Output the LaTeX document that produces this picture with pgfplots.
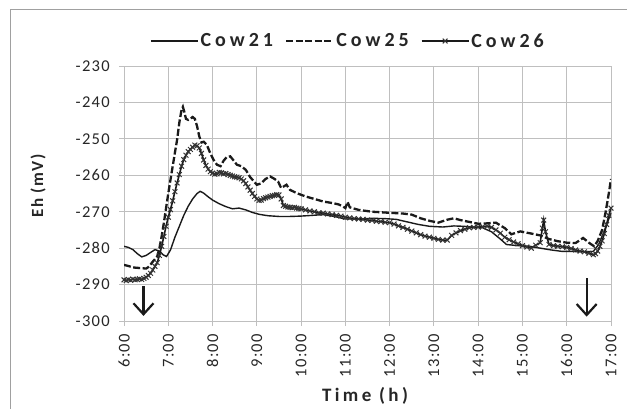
\documentclass[border=0pt]{standalone}
\usepackage{fontspec}
\setmainfont{Carlito}
\newfontfamily\tickfont[LetterSpace=8]{Carlito}
\newfontfamily\labfont[LetterSpace=18]{Carlito}
\newfontfamily\legfont[LetterSpace=20]{Carlito}
\newfontfamily\ylabfont[LetterSpace=9]{Carlito}
\usepackage{pgfplots}
\pgfplotsset{compat=1.18}
\usetikzlibrary{arrows.meta}
\definecolor{gridgray}{HTML}{BFBFBF}
\definecolor{framegray}{HTML}{A0A0A0}
\definecolor{ink}{HTML}{1A1A1A}
\begin{document}
\begin{tikzpicture}
\useasboundingbox (0pt,0pt) rectangle (627pt,408pt);
\draw[color=framegray, line width=1pt] (10pt,-5pt) -- (10pt,398pt) -- (640pt,398pt);
\begin{axis}[
  at={(124pt,87pt)}, anchor=south west,
  scale only axis, width=487pt, height=255pt,
  xmin=6, xmax=17, ymin=-300, ymax=-230,
  xtick={6,7,8,9,10,11,12,13,14,15,16,17},
  xticklabels={6:00,7:00,8:00,9:00,10:00,11:00,12:00,13:00,14:00,15:00,16:00,17:00},
  ytick={-300,-290,-280,-270,-260,-250,-240,-230},
  yticklabels={-300,-290,-280,-270,-260,-250,-240,-230},
  grid=major,
  grid style={color=gridgray, line width=0.9pt},
  axis line style={color=gridgray, line width=0.9pt},
  tick style={color=gridgray, line width=0.9pt},
  tick align=outside, major tick length=5pt,
  xtick pos=bottom, ytick pos=left,
  x tick label style={rotate=90, anchor=east, font=\tickfont\fontsize{16.5}{16.5}\selectfont, text=black!85, inner sep=2pt},
  y tick label style={font=\tickfont\fontsize{16.5}{16.5}\selectfont, text=black!85, inner sep=2pt},
  xticklabel shift=6pt, yticklabel shift=7pt,
  xlabel={Time (h)}, ylabel={Eh (mV)},
  xlabel style={at={(axis description cs:0.495,-0.293)}, anchor=center, font=\labfont\bfseries\fontsize{19}{19}\selectfont, text=black!85},
  ylabel style={at={(axis description cs:-0.1766,0.529)}, anchor=center, rotate=0, font=\ylabfont\bfseries\fontsize{17}{17}\selectfont, text=black!85},
  legend columns=3,
  legend style={at={(0.46,1.098)}, anchor=center, draw=none, fill=none,
    font=\legfont\bfseries\fontsize{20}{20}\selectfont, text=black!85,
    /tikz/every even column/.append style={column sep=10pt}},
  legend cell align=left,
  legend image code/.code={\draw[mark repeat=2,mark phase=2,#1] plot coordinates {(0pt,0pt) (23.5pt,0pt) (47pt,0pt)};},
]
\addplot[color=ink, line width=1.4pt, mark=none] coordinates {
(6.00,-279.5) (6.10,-279.8) (6.20,-280.4) (6.30,-281.5) (6.40,-282.4) (6.50,-282.0)
(6.60,-281.2) (6.70,-280.4) (6.80,-280.8) (6.88,-281.8) (6.96,-282.3) (7.05,-280.5)
(7.15,-277.0) (7.25,-274.0) (7.35,-271.0) (7.45,-268.5) (7.55,-266.5) (7.65,-265.0)
(7.72,-264.4) (7.80,-264.9) (7.90,-265.9) (8.00,-266.8) (8.15,-267.8) (8.30,-268.6)
(8.45,-269.2) (8.60,-269.0) (8.75,-269.5) (8.90,-270.2) (9.05,-270.7) (9.25,-271.1)
(9.50,-271.3) (9.75,-271.3) (10.00,-271.2) (10.25,-271.0) (10.50,-270.8) (10.75,-271.3)
(11.00,-272.0) (11.30,-272.0) (11.60,-271.8) (11.90,-271.9) (12.15,-272.1) (12.40,-272.8)
(12.65,-273.5) (12.90,-274.0) (13.20,-274.2) (13.45,-273.9) (13.66,-274.0) (13.90,-274.2)
(14.10,-274.4) (14.30,-275.5) (14.50,-277.5) (14.64,-279.0) (14.80,-279.2) (15.00,-279.4)
(15.17,-279.5) (15.40,-280.0) (15.65,-280.5) (15.90,-280.9) (16.10,-280.9) (16.35,-281.0)
(16.60,-280.9) (16.72,-279.0) (16.83,-275.8) (16.92,-273.0) (17.00,-270.3)
};
\addlegendentry{Cow21}
\addplot[color=ink, line width=2.3pt, dash pattern=on 7pt off 2.5pt, mark=none] coordinates {
(6.00,-284.6) (6.10,-284.9) (6.20,-285.3) (6.30,-285.4) (6.40,-285.5) (6.50,-285.6)
(6.55,-285.2) (6.60,-284.5) (6.65,-283.7) (6.70,-283.0) (6.75,-282.3) (6.80,-280.0)
(6.85,-276.8) (6.90,-273.1) (6.95,-269.0) (7.00,-265.0) (7.05,-261.2) (7.10,-257.5)
(7.15,-253.8) (7.20,-250.2) (7.25,-245.5) (7.30,-242.0) (7.33,-241.2) (7.36,-242.5)
(7.40,-244.5) (7.45,-244.8) (7.50,-244.5) (7.55,-244.0) (7.60,-244.5) (7.65,-246.5)
(7.70,-249.3) (7.75,-251.0) (7.80,-250.8) (7.87,-251.6) (7.95,-254.0) (8.02,-255.7)
(8.10,-257.1) (8.18,-257.5) (8.25,-256.0) (8.32,-255.0) (8.40,-254.8) (8.48,-256.0)
(8.55,-257.1) (8.65,-257.5) (8.75,-258.5) (8.85,-260.5) (9.00,-262.6) (9.10,-262.2)
(9.20,-261.0) (9.30,-260.3) (9.40,-261.0) (9.48,-261.7) (9.55,-263.5) (9.67,-262.6)
(9.75,-264.0) (9.90,-264.9) (10.10,-265.8) (10.30,-266.5) (10.50,-267.2) (10.70,-267.6)
(10.85,-268.0) (10.95,-268.6) (11.00,-269.0) (11.05,-267.3) (11.10,-268.8) (11.30,-269.5)
(11.60,-270.0) (12.00,-270.3) (12.30,-270.5) (12.50,-270.8) (12.70,-271.8) (12.90,-272.5)
(13.10,-273.0) (13.30,-272.2) (13.45,-271.8) (13.60,-272.3) (13.80,-272.8) (14.00,-273.3)
(14.20,-273.2) (14.40,-273.0) (14.60,-274.5) (14.75,-276.2) (14.95,-275.4) (15.20,-276.0)
(15.40,-276.5) (15.60,-277.5) (15.80,-278.1) (16.00,-278.5) (16.20,-278.6) (16.37,-277.2)
(16.50,-278.5) (16.62,-279.5) (16.70,-278.0) (16.80,-275.0) (16.88,-270.0) (16.95,-265.0)
(17.00,-261.0)
};
\addlegendentry{Cow25}
\addplot[color=ink, line width=1.6pt, mark=x, mark size=3.4pt, mark options={line width=1pt, color=black!80}] coordinates {
(6.00,-288.7) (6.05,-288.9) (6.10,-288.6) (6.15,-288.8) (6.20,-288.5) (6.25,-288.7)
(6.30,-288.6) (6.35,-288.4) (6.40,-288.6) (6.45,-288.3) (6.50,-288.0) (6.55,-287.5)
(6.60,-286.9) (6.65,-286.0) (6.70,-285.0) (6.75,-284.0) (6.80,-282.0) (6.85,-279.5)
(6.90,-276.8) (6.95,-274.0) (7.00,-271.5) (7.05,-269.4) (7.10,-267.0) (7.15,-264.5)
(7.20,-262.1) (7.25,-259.8) (7.30,-257.5) (7.35,-255.7) (7.40,-254.5) (7.45,-253.5)
(7.50,-252.9) (7.55,-252.3) (7.60,-251.7) (7.65,-251.9) (7.70,-252.5) (7.75,-254.0)
(7.80,-255.8) (7.85,-257.3) (7.90,-258.3) (7.95,-259.0) (8.00,-259.4) (8.05,-259.7)
(8.10,-259.6) (8.15,-259.2) (8.20,-259.3) (8.25,-259.6) (8.30,-259.5) (8.35,-259.8)
(8.40,-260.0) (8.45,-260.2) (8.50,-260.4) (8.55,-260.5) (8.60,-260.7) (8.65,-261.0)
(8.70,-261.5) (8.75,-262.3) (8.80,-263.2) (8.85,-264.1) (8.90,-265.0) (8.95,-265.8)
(9.00,-266.5) (9.05,-266.9) (9.10,-266.8) (9.15,-266.4) (9.20,-266.2) (9.25,-266.0)
(9.30,-265.8) (9.35,-265.6) (9.40,-265.5) (9.45,-265.3) (9.50,-265.4) (9.55,-266.5)
(9.60,-268.3) (9.65,-268.5) (9.70,-268.7) (9.75,-268.8) (9.80,-268.9) (9.85,-268.8)
(9.90,-269.0) (9.95,-269.1) (10.00,-269.2) (10.10,-269.5) (10.20,-269.8) (10.30,-270.0)
(10.40,-270.3) (10.50,-270.4) (10.60,-270.6) (10.70,-270.8) (10.80,-271.0) (10.90,-271.2)
(11.00,-271.5) (11.10,-271.7) (11.20,-271.9) (11.30,-272.0) (11.40,-272.1) (11.50,-272.3)
(11.60,-272.4) (11.70,-272.6) (11.80,-272.7) (11.90,-272.9) (12.00,-273.0) (12.10,-273.4)
(12.20,-273.9) (12.30,-274.3) (12.40,-274.8) (12.50,-275.3) (12.60,-275.8) (12.70,-276.3)
(12.80,-276.7) (12.90,-277.0) (13.00,-277.3) (13.10,-277.6) (13.20,-277.8) (13.30,-277.8)
(13.40,-276.5) (13.50,-275.8) (13.60,-275.2) (13.70,-274.8) (13.80,-274.4) (13.90,-274.3)
(14.00,-274.2) (14.10,-274.1) (14.20,-274.0) (14.30,-274.3) (14.40,-275.0) (14.50,-275.9)
(14.60,-277.0) (14.70,-277.7) (14.80,-278.3) (14.90,-278.8) (15.00,-279.3) (15.10,-279.7)
(15.20,-280.0) (15.30,-279.2) (15.40,-278.5) (15.45,-274.5) (15.48,-272.3) (15.52,-275.5)
(15.60,-279.0) (15.70,-279.3) (15.80,-279.5) (15.90,-279.6) (16.00,-279.8) (16.10,-280.1)
(16.20,-280.5) (16.30,-280.8) (16.40,-281.0) (16.50,-281.4) (16.60,-281.8) (16.65,-281.5)
(16.70,-280.8) (16.75,-279.5) (16.80,-278.0) (16.85,-276.0) (16.90,-273.5) (16.95,-271.0)
(17.00,-269.0)
};
\addlegendentry{Cow26}
\draw[color=ink, line width=2.2pt, -{Straight Barb[length=11pt,width=20pt]}] (axis cs:6.44,-290.4) -- (axis cs:6.44,-298.6);
\draw[color=ink, line width=2.2pt, -{Straight Barb[length=11pt,width=20pt]}] (axis cs:16.45,-288.2) -- (axis cs:16.45,-298.8);
\end{axis}
\end{tikzpicture}
\end{document}
